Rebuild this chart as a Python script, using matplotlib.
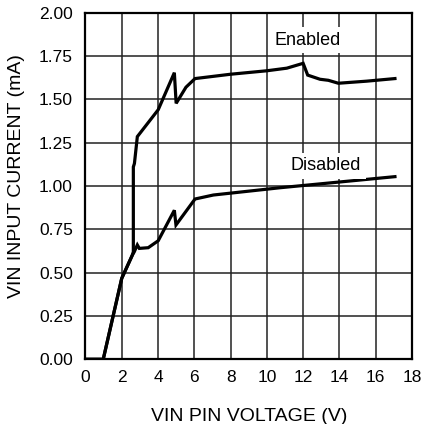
import matplotlib
matplotlib.use('Agg')
import matplotlib.pyplot as plt

plt.rcParams['font.family'] = ['Liberation Sans', 'DejaVu Sans']

# enabled curve (V, mA)
en_v = [0, 0.98, 2.0, 2.58, 2.64, 2.64, 2.7, 2.86, 4.01, 4.9, 5.0, 5.54, 6.04,
        8.0, 10.0, 11.1, 12.0, 12.25, 12.93, 13.39, 13.94, 15.5, 17.06]
en_i = [0, 0, 0.467, 0.60, 0.62, 1.11, 1.13, 1.285, 1.44, 1.654, 1.477, 1.57, 1.62,
        1.645, 1.665, 1.68, 1.708, 1.64, 1.616, 1.61, 1.593, 1.605, 1.62]

# disabled curve (V, mA)
dis_v = [0, 0.98, 2.0, 2.58, 2.69, 2.86, 2.97, 3.46, 4.01, 4.9, 4.99, 6.04, 7.05,
         10.72, 17.06]
dis_i = [0, 0, 0.467, 0.60, 0.62, 0.66, 0.64, 0.644, 0.684, 0.86, 0.775, 0.925, 0.948,
         0.99, 1.054]

fig = plt.figure(figsize=(4.23, 4.24), dpi=100)
ax = fig.add_axes([0.202, 0.1526, 0.772, 0.8174])

ax.plot(dis_v, dis_i, color='black', lw=2.3, solid_joinstyle='miter')
ax.plot(en_v, en_i, color='black', lw=2.3, solid_joinstyle='miter')

box = dict(boxstyle='square,pad=0.25', fc='white', ec='none')
ax.text(12.24, 1.814, 'Enabled', fontsize=13, ha='center', va='baseline', bbox=box)
ax.text(13.26, 1.092, 'Disabled', fontsize=13, ha='center', va='baseline', bbox=box)

ax.set_xlim(0, 18)
ax.set_ylim(0, 2.0)
ax.set_xticks(range(0, 19, 2))
ax.set_yticks([0, 0.25, 0.5, 0.75, 1.0, 1.25, 1.5, 1.75, 2.0])
ax.set_yticklabels(['%.2f' % v for v in ax.get_yticks()])
ax.tick_params(length=0, labelsize=12.5)
ax.tick_params(axis='x', pad=8)
ax.tick_params(axis='y', pad=9)
ax.grid(True, color='#222222', lw=1.1)
for s in ax.spines.values():
    s.set_linewidth(1.6)

ax.set_xlabel('VIN PIN VOLTAGE (V)', fontsize=14, labelpad=16)
ax.set_ylabel('VIN INPUT CURRENT (mA)', fontsize=14)
ax.yaxis.set_label_coords(-0.185, 0.529)

fig.savefig('out.png', dpi=100)
